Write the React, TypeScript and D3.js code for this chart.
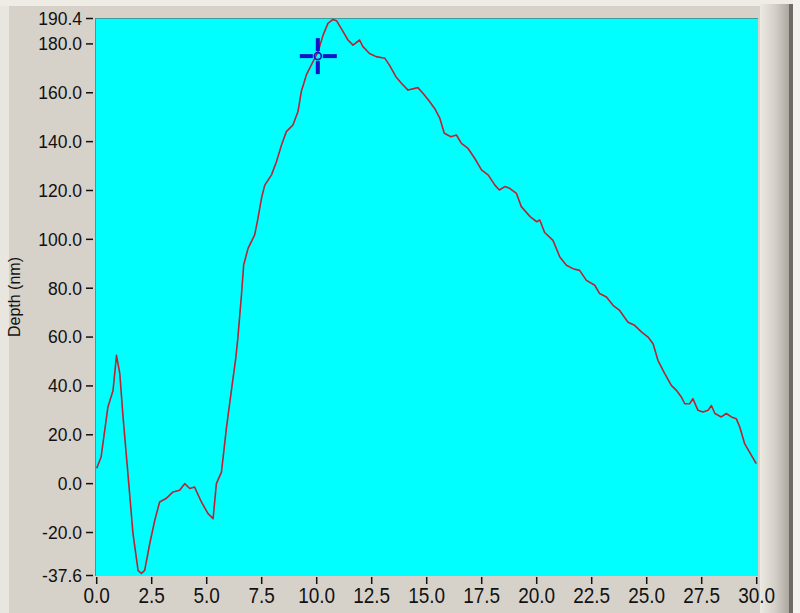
import React from "react";
import * as d3 from "d3";

const positions = [0, 0.2, 0.51, 0.74, 0.9, 1.05, 1.2, 1.42, 1.65, 1.88, 2.03, 2.18, 2.41, 2.64, 2.86, 3.15, 3.47, 3.77, 4.0, 4.23, 4.45, 4.76, 5.06, 5.29, 5.44, 5.67, 5.9, 6.12, 6.32, 6.42, 6.58, 6.68, 6.88, 7.18, 7.33, 7.49, 7.64, 7.94, 8.17, 8.4, 8.62, 8.92, 9.15, 9.3, 9.53, 9.83, 10.06, 10.29, 10.51, 10.74, 10.9, 11.2, 11.42, 11.65, 11.95, 12.1, 12.4, 12.7, 13.1, 13.3, 13.6, 13.85, 14.15, 14.6, 14.83, 15.13, 15.36, 15.6, 15.8, 16.1, 16.35, 16.58, 16.88, 17.18, 17.49, 17.8, 18.1, 18.3, 18.55, 18.77, 19.08, 19.3, 19.7, 20.0, 20.14, 20.36, 20.74, 21.05, 21.35, 21.65, 21.95, 22.26, 22.64, 22.86, 23.17, 23.47, 23.77, 24.15, 24.45, 24.76, 25.06, 25.29, 25.51, 25.82, 26.12, 26.35, 26.58, 26.73, 26.95, 27.1, 27.33, 27.56, 27.79, 27.94, 28.1, 28.39, 28.62, 28.85, 29.07, 29.23, 29.45, 29.76, 29.98];

const depths = [6.3, 10.9, 31.4, 38, 52.5, 45, 27, 4, -20.5, -35.5, -36.8, -35.5, -24.6, -15, -7.5, -6.1, -3.4, -2.7, 0, -2, -1.4, -7.5, -12.3, -14.3, 0, 4.7, 23, 38, 51.3, 60, 77.2, 89.5, 96.3, 101.8, 108.6, 116.8, 122.2, 126.3, 131.8, 138.6, 144.1, 146.8, 152.3, 160.5, 167.3, 172.7, 176.8, 183.6, 188.4, 190.0, 189.5, 185, 181.6, 179.5, 181.6, 178.9, 176.1, 174.8, 174.1, 171.4, 166.6, 163.9, 161.1, 162.1, 159.8, 156.4, 153.6, 149.5, 143.4, 142, 142.7, 139.3, 137.2, 133.2, 128.4, 126.3, 122.2, 120.2, 121.6, 120.9, 118.8, 113.4, 109.3, 107.2, 107.9, 102.8, 99.6, 92.8, 89.4, 88, 87.3, 83.2, 81.2, 77.8, 76.4, 73, 70.9, 66.1, 64.8, 62.1, 60, 57.3, 50.5, 45, 40.2, 38.2, 35.4, 32.7, 32.7, 34.8, 30, 29.3, 30, 32, 28.7, 27.3, 28.7, 27.3, 26.6, 23.2, 16.4, 11.6, 8.2];

const yTicks = [190.4, 180, 160, 140, 120, 100, 80, 60, 40, 20, 0, -20, -37.6];
const xTicks = [0, 2.5, 5, 7.5, 10, 12.5, 15, 17.5, 20, 22.5, 25, 27.5, 30];
const yDomain = [-37.6, 190.4];
const xDomain = [0, 30];
const cursorPoint = [10.05, 175];
const yTitle = "Depth (nm)";

export default function App() {
  const W = 800, H = 613;
  const plotL = 95, plotR = 758, plotT = 18, plotB = 576;
  const x = d3.scaleLinear().domain(xDomain).range([96.7, 756.7]);
  const y = d3.scaleLinear().domain(yDomain).range([575.5, 18.5]);
  const data = positions.map((p, i) => [p, depths[i]] as [number, number]);
  const line = d3.line<[number, number]>().x(d => x(d[0])).y(d => y(d[1]));
  const cx = x(cursorPoint[0]);
  const cy = y(cursorPoint[1]);
  const font = "'Liberation Sans', Arial, sans-serif";
  const blue = "#1414c4";
  return (
    <svg width={W} height={H} style={{ position: "absolute", left: 0, top: 0 }} xmlns="http://www.w3.org/2000/svg">
      <defs>
        <linearGradient id="frameR" x1="0" x2="1" y1="0" y2="0">
          <stop offset="0" stopColor="#ece9e2" />
          <stop offset="0.5" stopColor="#d4d0c8" />
          <stop offset="1" stopColor="#a9a59e" />
        </linearGradient>
        <clipPath id="plotClip">
          <rect x={plotL} y={plotT} width={plotR - plotL} height={plotB - plotT} />
        </clipPath>
      </defs>
      <rect x={0} y={0} width={W} height={H} fill="#d6d2ca" />
      <rect x={0} y={0} width={9} height={H} fill="#e9e6df" />
      <rect x={0} y={0} width={W} height={6} fill="#efece6" />
      <rect x={760} y={4} width={30} height={H - 4} fill="url(#frameR)" />
      <rect x={789} y={4} width={4} height={H - 4} fill="#6f6b65" />
      <rect x={793} y={0} width={7} height={H} fill="#f4f2ee" />
      <rect x={plotL} y={plotT} width={plotR - plotL} height={plotB - plotT} fill="#00ffff" />
      <line x1={plotL} y1={plotT + 0.5} x2={plotR} y2={plotT + 0.5} stroke="#3a9c9c" strokeWidth={1} />
      <line x1={plotL + 0.5} y1={plotT} x2={plotL + 0.5} y2={plotB} stroke="#3a9c9c" strokeWidth={1} />
      <path d={line(data) || ""} fill="none" stroke="#bb2233" strokeWidth={1.6} strokeLinejoin="round" clipPath="url(#plotClip)" />
      <g fill={blue}>
        <rect x={cx - 18} y={cy - 2} width={13} height={4} />
        <rect x={cx + 5} y={cy - 2} width={14} height={4} />
        <rect x={cx - 2} y={cy - 18} width={4} height={13} />
        <rect x={cx - 2} y={cy + 5} width={4} height={13} />
      </g>
      <circle cx={cx} cy={cy} r={3.5} fill="none" stroke={blue} strokeWidth={1.6} />
      <g fontFamily={font} fill="#111">
        {yTicks.map(t => (
          <g key={"y" + t}>
            <text x={82} y={y(t)} dy="0.36em" fontSize={17.5} textAnchor="end">{t.toFixed(1)}</text>
            <line x1={86} x2={93} y1={y(t)} y2={y(t)} stroke="#111" strokeWidth={1.5} />
          </g>
        ))}
        {xTicks.map(t => (
          <g key={"x" + t}>
            <line x1={x(t)} x2={x(t)} y1={577} y2={584} stroke="#111" strokeWidth={1.5} />
            <g transform={`translate(${x(t)},603) scale(1,1.15)`}>
              <text x={0} y={0} fontSize={19} textAnchor="middle">{t.toFixed(1)}</text>
            </g>
          </g>
        ))}
        <text transform={`translate(20,297) rotate(-90)`} fontSize={16} textAnchor="middle">{yTitle}</text>
      </g>
    </svg>
  );
}
